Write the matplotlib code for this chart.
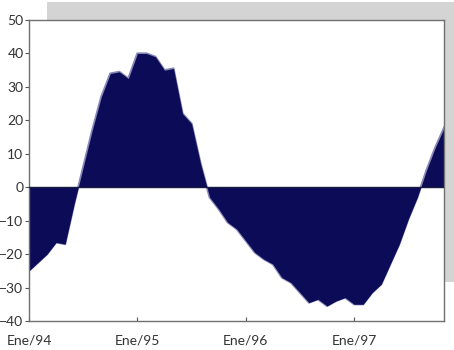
import matplotlib
matplotlib.use("Agg")
import matplotlib.pyplot as plt
from matplotlib.patches import Rectangle
import numpy as np

# Monthly values, January 1994 through November 1997
values = [
    -25, -22.5, -20, -16.5, -17, -5, 6, 17, 27, 34, 34.5, 32.5,
    40, 40, 39, 35, 35.5, 22, 19, 7, -3, -6.5, -10.5, -12.5,
    -16, -19.5, -21.5, -23, -27, -28.5, -31.5, -34.5, -33.5, -35.5, -34, -33,
    -35, -35, -31.5, -29, -23, -17, -9.5, -3, 5, 12, 18,
]
tick_months = [0, 12, 24, 36]
tick_labels = ["Ene/94", "Ene/95", "Ene/96", "Ene/97"]
y_ticks = [-40, -30, -20, -10, 0, 10, 20, 30, 40, 50]

plt.rcParams["font.family"] = ["Lato", "DejaVu Sans"]

fig = plt.figure(figsize=(4.54, 3.5), dpi=100)
fig.patch.set_facecolor("white")

# offset grey backdrop behind the plot frame
fig.patches.append(Rectangle((47 / 454, 1 - 282 / 350), 1.0, 280 / 350,
                             transform=fig.transFigure, facecolor="#d4d4d4",
                             edgecolor="none", zorder=0))

ax = fig.add_axes([29 / 454, 1 - 321 / 350, 415 / 454, 301 / 350])
ax.set_facecolor("white")
ax.set_zorder(1)

x = np.arange(len(values))
y = np.array(values, dtype=float)

navy = "#0b0b58"
ax.plot(x, y, color="#8a8ab8", lw=1.6, zorder=1)
ax.fill_between(x, y, 0, color=navy, lw=0, zorder=2, interpolate=True)
ax.axhline(0, color="#1a1a40", lw=1.0, zorder=3)

ax.set_xlim(0, 45.95)
ax.set_ylim(-40, 50)
ax.set_yticks(y_ticks)
ax.set_xticks(tick_months)
ax.set_xticklabels(tick_labels)

for s in ax.spines.values():
    s.set_color("#707070")
    s.set_linewidth(1.0)

ax.tick_params(axis="y", direction="out", length=3, width=0.8, color="#555555",
               labelsize=10, labelcolor="#333333", pad=1)
ax.tick_params(axis="x", direction="in", length=3, width=0.8, color="#555555",
               labelsize=10, labelcolor="#333333", pad=10)

fig.savefig("out.png", dpi=100, facecolor="white")
